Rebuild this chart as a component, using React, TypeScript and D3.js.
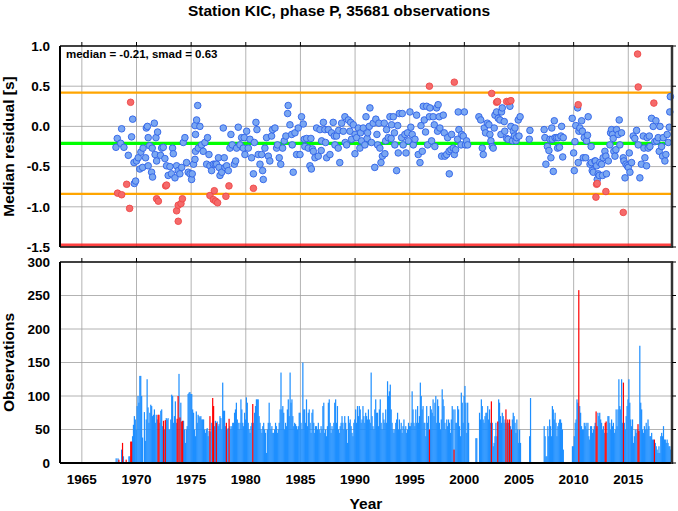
import React from "react";
import * as d3 from "d3";

const TITLE = "Station KIC, phase P, 35681 observations";
const STATS_LABEL = "median = -0.21, smad = 0.63";
const MEDIAN = -0.21;
const SMAD = 0.63;
const Y_LABEL_TOP = "Median residual [s]";
const Y_LABEL_BOTTOM = "Observations";
const X_LABEL = "Year";

const YEAR_TICKS = [1965, 1970, 1975, 1980, 1985, 1990, 1995, 2000, 2005, 2010, 2015];
const RES_TICKS = [1.0, 0.5, 0.0, -0.5, -1.0, -1.5];
const RES_TICK_LABELS = ["1.0", "0.5", "0.0", "-0.5", "-1.0", "-1.5"];
const OBS_TICKS = [0, 50, 100, 150, 200, 250, 300];

// monthly median residuals (decimal year, seconds)
const blueDots: [number, number][] = [
  [1968.12,-0.26],[1968.24,-0.15],[1968.55,-0.21],[1968.64,-0.03],[1968.85,-0.26],[1969.25,-0.36],[1969.55,-0.13],[1969.65,0.09],[1969.77,-0.45],[1969.8,-0.71],[1969.92,-0.68],
  [1970.0,-0.43],[1970.16,-0.39],[1970.3,-0.53],[1970.4,-0.32],[1970.56,-0.51],[1970.6,-0.27],[1970.83,-0.39],[1970.9,-0.02],[1971.0,0.0],[1971.07,-0.14],[1971.07,-0.49],[1971.2,-0.24],[1971.38,-0.57],[1971.44,-0.27],[1971.47,-0.63],[1971.63,0.04],[1971.7,-0.35],[1971.78,-0.14],[1971.84,-0.43],[1971.93,-0.07],
  [1972.2,-0.36],[1972.3,-0.27],[1972.45,-0.26],[1972.6,-0.40],[1972.75,-0.49],[1972.9,-0.61],[1973.06,-0.50],[1973.2,-0.59],[1973.3,-0.27],[1973.37,-0.34],[1973.52,-0.64],[1973.67,-0.49],[1973.82,-0.55],[1973.97,-0.59],
  [1974.13,-0.51],[1974.28,-0.20],[1974.43,-0.14],[1974.58,-0.45],[1974.73,-0.57],[1974.9,-0.59],[1975.04,-0.66],[1975.1,-0.59],[1975.22,-0.47],[1975.35,-0.41],[1975.4,-0.31],[1975.35,0.01],[1975.4,-0.10],[1975.5,0.08],[1975.6,0.26],[1975.65,-0.27],
  [1975.8,0.0],[1975.96,-0.23],[1976.1,-0.31],[1976.26,-0.20],[1976.42,-0.47],[1976.5,-0.14],[1976.63,-0.35],[1976.72,-0.49],[1976.87,-0.55],[1977.03,-0.47],[1977.2,-0.47],[1977.33,-0.47],[1977.5,-0.39],[1977.55,-0.51],[1977.64,-0.61],[1977.8,-0.57],[1977.94,-0.02],
  [1978.03,-0.39],[1978.1,-0.51],[1978.25,-0.49],[1978.4,-0.55],[1978.55,-0.27],[1978.64,-0.10],[1978.76,-0.23],[1978.95,-0.47],[1979.07,-0.43],[1979.16,-0.27],[1979.31,-0.01],[1979.47,-0.23],[1979.62,-0.14],[1979.77,-0.27],[1979.86,-0.14],[1979.92,-0.35],
  [1980.08,-0.06],[1980.23,-0.27],[1980.38,-0.16],[1980.53,-0.39],[1980.7,-0.59],[1980.78,-0.20],[1980.93,0.05],[1981.02,-0.04],[1981.14,-0.35],[1981.3,-0.47],[1981.45,-0.35],[1981.54,-0.55],[1981.6,-0.66],[1981.75,-0.27],[1981.9,-0.14],
  [1982.06,-0.37],[1982.2,-0.43],[1982.36,-0.12],[1982.45,-0.04],[1982.67,-0.02],[1982.82,-0.27],[1982.9,-0.23],[1983.06,-0.39],[1983.2,-0.47],[1983.37,-0.27],[1983.52,-0.18],[1983.67,-0.12],[1983.83,0.16],[1983.88,0.26],
  [1984.04,0.02],[1984.2,-0.10],[1984.25,-0.23],[1984.34,-0.57],[1984.5,-0.08],[1984.65,-0.35],[1984.8,-0.02],[1984.96,-0.35],[1985.1,0.12],[1985.26,0.03],[1985.35,-0.16],[1985.4,-0.25],[1985.57,-0.15],[1985.72,-0.27],[1985.87,-0.49],[1985.96,-0.15],
  [1986.0,-0.53],[1986.1,-0.28],[1986.18,-0.31],[1986.33,-0.39],[1986.48,-0.02],[1986.63,-0.37],[1986.79,-0.04],[1986.9,-0.30],[1986.94,-0.18],[1987.1,0.05],[1987.24,-0.04],[1987.3,-0.20],[1987.4,-0.39],[1987.55,-0.04],[1987.7,-0.35],[1987.85,-0.08],
  [1988.0,0.05],[1988.1,-0.12],[1988.16,-0.23],[1988.3,-0.12],[1988.46,-0.27],[1988.5,-0.05],[1988.6,-0.45],[1988.77,0.04],[1988.92,-0.06],[1989.07,0.12],[1989.1,-0.20],[1989.23,-0.23],[1989.38,0.08],[1989.53,-0.06],[1989.6,0.05],[1989.68,-0.16],[1989.84,0.02],[1989.99,-0.34],
  [1990.0,-0.10],[1990.14,-0.14],[1990.3,-0.02],[1990.44,-0.27],[1990.5,-0.08],[1990.6,-0.18],[1990.75,-0.02],[1990.9,-0.23],[1991.0,0.12],[1991.1,-0.15],[1991.15,-0.08],[1991.3,0.0],[1991.36,0.23],[1991.5,-0.20],[1991.66,0.04],[1991.8,-0.51],[1991.9,0.09],
  [1992.0,-0.10],[1992.06,-0.23],[1992.18,0.04],[1992.27,-0.27],[1992.37,-0.45],[1992.5,-0.37],[1992.67,0.04],[1992.73,-0.34],[1992.8,-0.18],[1992.88,-0.04],[1993.04,-0.14],[1993.19,0.12],[1993.3,-0.15],[1993.34,0.02],[1993.5,0.12],[1993.6,-0.08],[1993.64,-0.23],[1993.8,-0.55],[1993.9,0.01],[1993.95,-0.33],
  [1994.05,0.16],[1994.26,-0.14],[1994.32,0.16],[1994.4,-0.23],[1994.56,-0.10],[1994.66,-0.33],[1994.8,-0.08],[1994.87,-0.18],[1995.02,0.18],[1995.1,-0.01],[1995.23,-0.10],[1995.33,-0.23],[1995.48,-0.16],[1995.63,0.14],[1995.78,-0.35],[1995.94,-0.45],
  [1996.03,0.01],[1996.15,-0.31],[1996.24,0.25],[1996.33,0.08],[1996.45,-0.07],[1996.55,0.25],[1996.64,-0.23],[1996.8,0.12],[1996.85,0.23],[1997.0,-0.18],[1997.15,0.12],[1997.25,0.02],[1997.3,-0.25],[1997.46,0.23],[1997.55,-0.06],[1997.6,0.27],[1997.7,0.12],[1997.76,-0.02],[1997.92,-0.37],
  [1998.07,0.14],[1998.16,-0.08],[1998.22,-0.37],[1998.38,-0.35],[1998.47,-0.14],[1998.6,-0.31],[1998.62,-0.59],[1998.77,-0.29],[1998.83,-0.10],[1998.98,-0.27],[1999.08,-0.35],[1999.2,-0.29],[1999.38,-0.16],[1999.44,0.18],[1999.5,-0.04],[1999.7,-0.23],[1999.75,-0.10],[1999.9,-0.12],
  [2000.0,0.18],[2000.1,-0.23],[2000.2,-0.18],[2000.3,-0.23],
  [2001.33,0.12],[2001.5,0.08],[2001.64,-0.27],[2001.73,-0.35],[2001.82,-0.02],[2001.94,-0.08],[2002.1,0.04],[2002.25,0.02],[2002.34,-0.10],[2002.43,-0.18],[2002.55,-0.25],[2002.64,-0.27],[2002.73,-0.02],[2002.8,0.14],[2002.95,0.18],
  [2003.1,0.10],[2003.26,0.08],[2003.35,-0.10],[2003.4,0.18],[2003.47,0.23],[2003.65,0.06],[2003.7,-0.06],[2003.87,-0.15],[2004.0,-0.16],[2004.17,0.25],[2004.26,0.0],[2004.4,-0.18],[2004.48,-0.06],[2004.57,-0.12],[2004.63,-0.02],[2004.72,-0.18],[2004.78,-0.14],[2004.93,0.08],[2005.0,-0.12],[2005.1,0.12],
  [2005.94,-0.16],[2006.0,-0.05],
  [2007.3,-0.04],[2007.37,-0.14],[2007.46,-0.47],[2007.6,-0.25],[2007.74,-0.30],[2007.83,-0.16],[2007.92,-0.39],[2008.0,-0.02],[2008.04,-0.16],[2008.14,-0.56],[2008.23,0.07],[2008.3,-0.14],[2008.44,-0.14],[2008.53,-0.27],[2008.6,-0.14],[2008.7,-0.26],[2008.84,-0.12],[2008.9,0.0],[2009.0,-0.38],[2009.05,-0.14],
  [2009.87,0.10],[2010.0,-0.33],[2010.06,-0.55],[2010.12,-0.19],[2010.2,0.01],[2010.36,0.23],[2010.42,-0.45],[2010.48,-0.06],[2010.57,-0.02],[2010.73,0.07],[2010.8,-0.06],[2010.88,-0.39],[2010.97,-0.14],
  [2011.1,-0.39],[2011.18,-0.18],[2011.27,-0.11],[2011.33,0.12],[2011.5,-0.47],[2011.6,-0.25],[2011.64,-0.45],[2011.7,-0.55],[2011.8,-0.57],[2011.95,-0.43],
  [2012.0,-0.43],[2012.1,-0.49],[2012.16,-0.66],[2012.25,-0.59],[2012.34,-0.61],[2012.4,-0.45],[2012.56,-0.47],[2012.65,-0.61],[2012.7,-0.39],[2012.86,-0.31],[2012.95,-0.37],
  [2013.0,-0.59],[2013.17,-0.43],[2013.32,-0.23],[2013.38,-0.08],[2013.47,-0.04],[2013.56,-0.10],[2013.62,-0.15],[2013.68,-0.31],[2013.78,-0.37],[2013.87,-0.29],[2013.93,-0.04],
  [2014.08,-0.10],[2014.17,0.08],[2014.23,-0.23],[2014.38,-0.08],[2014.54,-0.39],[2014.6,-0.43],[2014.7,-0.64],[2014.78,-0.47],[2014.9,-0.49],
  [2015.0,-0.51],[2015.09,-0.33],[2015.15,-0.57],[2015.3,-0.45],[2015.45,-0.12],[2015.6,-0.15],[2015.76,-0.05],[2015.91,-0.23],
  [2016.06,-0.64],[2016.2,-0.47],[2016.37,-0.12],[2016.43,-0.27],[2016.52,-0.39],[2016.67,-0.49],[2016.73,-0.14],[2016.82,-0.27],[2016.92,-0.12],[2016.98,-0.25],
  [2017.13,0.10],[2017.28,0.0],[2017.43,-0.19],[2017.53,0.07],[2017.6,-0.18],[2017.74,-0.14],[2017.83,-0.31],[2017.9,0.0],
  [2018.05,-0.25],[2018.14,-0.37],[2018.2,-0.14],[2018.35,-0.43],[2018.44,-0.35],[2018.56,-0.10],[2018.66,-0.20],[2018.75,-0.01],[2018.8,0.18],[2018.85,0.37]
];

const redDots: [number, number][] = [
  [1968.27,-0.83],[1968.64,-0.85],[1969.1,-0.72],[1969.37,-1.02],[1969.46,0.30],[1971.84,-0.90],[1972.0,-0.93],[1972.67,-0.74],[1972.75,-0.73],
  [1973.67,-1.05],[1973.82,-0.98],[1973.82,-1.18],[1974.07,-0.96],[1974.2,-0.90],[1976.72,-0.86],[1977.03,-0.91],[1977.12,-0.80],[1977.24,-0.93],[1977.42,-0.95],
  [1978.18,-0.87],[1978.46,-0.74],[1980.7,-0.77],[1996.8,0.50],[1999.08,0.55],[2002.5,0.41],[2002.95,0.30],[2003.04,0.31],[2003.87,0.31],[2004.08,0.31],[2004.26,0.32],
  [2010.42,0.27],[2012.04,-0.88],[2012.1,-0.72],[2012.16,-0.71],[2012.95,-0.81],[2014.54,-1.07],[2015.85,0.90],[2015.91,0.49],[2017.34,0.29]
];

// monthly observation counts, each run starting in January of its first year
const obs1968s = [
  0,7,0,7,5,0,0,20,30,10,0,0,
  5,0,0,10,10,32,32,40,57,70,65,50,
  85,100,90,130,130,100,38,0,76,33,65,125,
  83,60,75,87,85,70,72,80,60,72,65,72,
  72,60,78,80,55,63,50,64,67,65,67,50,
  50,65,102,100,60,70,92,60,66,100,133,68,
  90,62,63,63,50,30,50,55,103,105,106,103,
  103,80,75,50,40,77,60,72,70,68,70,65,
  65,65,50,45,50,52,40,48,70,47,60,97,
  85,55,63,60,62,55,58,70,67,50,120,78
];
const obs1978s = [
  78,55,60,50,52,66,55,50,55,60,60,75,
  80,90,65,60,50,60,95,80,60,55,75,65,
  98,90,60,50,45,55,60,88,60,75,85,95,
  95,95,70,60,50,45,55,60,50,45,15,50,
  60,90,60,50,55,45,45,50,60,55,45,50,
  60,80,135,80,85,75,50,60,55,80,95,70,
  135,90,95,70,55,60,58,55,50,55,75,75,
  60,50,150,80,80,60,95,55,75,80,60,45,
  75,80,60,45,55,55,50,60,50,45,55,50,
  85,90,45,50,40,55,90,95,60,45,55,50
];
const obs1988s = [
  60,90,95,60,85,50,45,55,60,70,60,50,
  70,60,50,30,70,60,65,55,45,40,60,65,
  80,60,85,70,85,80,60,65,85,70,60,75,
  70,65,80,65,60,135,70,55,50,80,95,75,
  75,55,80,95,60,50,75,65,60,80,60,122,
  100,107,117,80,60,50,45,50,60,65,75,50,
  65,50,60,45,55,65,50,55,45,50,60,55,
  55,60,107,80,60,55,80,60,85,60,70,120,
  100,80,85,60,60,40,85,60,70,50,85,80,
  75,95,70,90,100,60,95,85,60,50,65,110
];
const obs1998s = [
  95,85,60,50,65,55,65,60,45,65,85,80,
  20,80,60,60,85,80,55,40,105,90,60,100,
  115,90,45,90,60
];
const obs2001s = [
  37,37,0,0,75,65,95,85,65,60,70,75,
  75,85,65,80,60,92,60,25,30,40,60,40,
  62,95,90,70,60,75,70,60,65,80,60,65,
  60,65,55,50,65,75,70,60,45,65,50,30,
  50,30,0,0,0,0,0,0,0,0,0,40,
  97,0,0,0,0,0,0,0,0,0,0,0,
  0,0,0,55,40,10,10,55,40,65,55,40,
  85,80,65,75,60,40,55,60,65,65,60,50,
  20,0,0,0,0,0,0,0,0,0,25,25
];
const obs2010s = [
  40,60,65,95,90,258,85,75,55,50,50,60,
  55,60,50,60,40,35,55,55,45,50,55,60,
  77,55,75,70,75,65,60,50,55,45,60,62,
  45,70,70,60,50,65,55,60,45,50,80,55,
  80,125,85,80,125,60,120,60,50,70,85,95,
  125,90,65,55,65,30,40,50,45,50,58,48,
  175,90,80,50,45,55,50,60,50,65,55,40,
  40,45,35,35,35,30,25,20,15,25,15,40,
  45,40,55,35,35,30,35,30,25,25,20,25
];
const obsRuns: [number, number[]][] = [
  [1968, obs1968s], [1978, obs1978s], [1988, obs1988s], [1998, obs1998s], [2001, obs2001s], [2010, obs2010s]
];
// months flagged red: [year, month index 0-11]
const redMonths: [number, number][] = [
  [1968,4],[1968,8],[1969,0],[1969,5],[1969,6],[1971,11],[1972,0],[1972,5],[1972,7],[1973,8],[1973,9],[1973,11],[1974,1],[1974,2],
  [1976,8],[1976,11],[1977,0],[1977,3],[1978,2],[1978,5],[1980,7],[1996,9],[1999,0],[2002,5],[2003,0],[2003,9],[2003,11],[2004,1],[2004,3],
  [2010,5],[2012,0],[2012,1],[2012,10],[2012,11],[2014,6],[2015,10],[2015,11],[2017,4]
];

const W = 678, H = 511;
const L = 60, R = 672;
const T1 = 46, B1 = 247, T2 = 262, B2 = 463;
const FONT = "'Liberation Sans', Arial, Helvetica, sans-serif";

export default function App() {
  const x = d3.scaleLinear().domain([1963, 2019]).range([L, R]);
  const yRes = d3.scaleLinear().domain([-1.5, 1.0]).range([B1, T1]);
  const yObs = d3.scaleLinear().domain([0, 300]).range([B2, T2]);
  const redSet = new Set(redMonths.map(([yy, m]) => yy * 12 + m));

  const bars: { x: number; w: number; y: number; h: number; red: boolean }[] = [];
  obsRuns.forEach(([start, counts]) => {
    counts.forEach((c, i) => {
      if (c <= 0) return;
      const yy = start + Math.floor(i / 12);
      const m = i % 12;
      const t0 = yy + m / 12;
      const x0 = x(t0);
      const x1 = x(t0 + 1 / 12);
      bars.push({ x: x0, w: x1 - x0, y: yObs(c), h: yObs(0) - yObs(c), red: redSet.has(yy * 12 + m) });
    });
  });

  const gridColor = "#a0a0a0";
  return (
    <svg width={W} height={H} style={{ position: "absolute", left: 0, top: 0, background: "#fff" }} fontFamily={FONT}>
      <rect x={0} y={0} width={W} height={H} fill="#fff" />
      <text x={W / 2} y={16} textAnchor="middle" fontSize={15.5} fontWeight="bold">{TITLE}</text>

      {/* ---------- top panel ---------- */}
      <g>
        {YEAR_TICKS.map((t) => (
          <line key={"gx1" + t} x1={x(t)} x2={x(t)} y1={T1} y2={B1} stroke={gridColor} strokeWidth={0.8} />
        ))}
        {RES_TICKS.filter((v) => v < 1 && v > -1.5).map((v) => (
          <line key={"gy1" + v} x1={L} x2={R} y1={yRes(v)} y2={yRes(v)} stroke={gridColor} strokeWidth={0.8} />
        ))}
        <line x1={L} x2={R} y1={yRes(MEDIAN + SMAD)} y2={yRes(MEDIAN + SMAD)} stroke="#ffa500" strokeWidth={2.2} />
        <line x1={L} x2={R} y1={yRes(MEDIAN - SMAD)} y2={yRes(MEDIAN - SMAD)} stroke="#ffa500" strokeWidth={2.2} />
        <line x1={L} x2={R} y1={yRes(MEDIAN)} y2={yRes(MEDIAN)} stroke="#00ff00" strokeWidth={3.2} />
        <line x1={L} x2={R} y1={B1 - 2} y2={B1 - 2} stroke="#ff2020" strokeWidth={3} opacity={0.85} />
        {blueDots.map(([t, v], i) => (
          <circle key={"b" + i} cx={x(t)} cy={yRes(v)} r={3.3} fill="#7aa7f2" stroke="#2f62e8" strokeWidth={0.9} />
        ))}
        {redDots.map(([t, v], i) => (
          <circle key={"r" + i} cx={x(t)} cy={yRes(v)} r={3.3} fill="#f56a6a" stroke="#ee4848" strokeWidth={0.9} />
        ))}
        <text x={66} y={57.5} fontSize={11.5} fontWeight="bold">{STATS_LABEL}</text>
        {/* frame */}
        <line x1={L} x2={R} y1={T1} y2={T1} stroke="#000" strokeWidth={1.5} />
        <line x1={L} x2={R} y1={B1} y2={B1} stroke="#000" strokeWidth={1.5} />
        <line x1={L} x2={L} y1={T1} y2={B1} stroke="#000" strokeWidth={2} />
        <line x1={R} x2={R} y1={T1 - 0.75} y2={B1 + 0.75} stroke="#333" strokeWidth={2.5} />
        {YEAR_TICKS.map((t) => (
          <line key={"tx1" + t} x1={x(t)} x2={x(t)} y1={T1} y2={T1 - 4} stroke="#000" strokeWidth={1} />
        ))}
        {RES_TICKS.map((v) => (
          <line key={"ty1" + v} x1={R} x2={R + 4} y1={yRes(v)} y2={yRes(v)} stroke="#000" strokeWidth={1} />
        ))}
        {RES_TICKS.map((v, i) => (
          <text key={"yl1" + v} x={50} y={yRes(v)} dy="0.36em" textAnchor="end" fontSize={13.5} fontWeight="bold">{RES_TICK_LABELS[i]}</text>
        ))}
        <text transform={`translate(13.5,${(T1 + B1) / 2}) rotate(-90)`} textAnchor="middle" fontSize={15.5} fontWeight="bold">{Y_LABEL_TOP}</text>
      </g>

      {/* ---------- bottom panel ---------- */}
      <g>
        {YEAR_TICKS.map((t) => (
          <line key={"gx2" + t} x1={x(t)} x2={x(t)} y1={T2} y2={B2} stroke={gridColor} strokeWidth={0.8} />
        ))}
        {OBS_TICKS.filter((v) => v > 0 && v < 300).map((v) => (
          <line key={"gy2" + v} x1={L} x2={R} y1={yObs(v)} y2={yObs(v)} stroke={gridColor} strokeWidth={0.8} />
        ))}
        {bars.filter((b) => !b.red).map((b, i) => (
          <rect key={"ob" + i} x={b.x} y={b.y} width={b.w + 0.3} height={b.h} fill="#1e8fff" />
        ))}
        {bars.filter((b) => b.red).map((b, i) => (
          <rect key={"or" + i} x={b.x} y={b.y} width={b.w + 0.3} height={b.h} fill="#ff0000" />
        ))}
        <line x1={L} x2={R} y1={T2} y2={T2} stroke="#000" strokeWidth={1.5} />
        <line x1={L} x2={R} y1={B2} y2={B2} stroke="#000" strokeWidth={2} />
        <line x1={L} x2={L} y1={T2} y2={B2} stroke="#000" strokeWidth={2} />
        <line x1={R} x2={R} y1={T2 - 0.75} y2={B2 + 1} stroke="#333" strokeWidth={2.5} />
        {YEAR_TICKS.map((t) => (
          <line key={"tx2" + t} x1={x(t)} x2={x(t)} y1={T2} y2={T2 - 4} stroke="#000" strokeWidth={1} />
        ))}
        {OBS_TICKS.map((v) => (
          <line key={"ty2" + v} x1={R} x2={R + 4} y1={yObs(v)} y2={yObs(v)} stroke="#000" strokeWidth={1} />
        ))}
        {OBS_TICKS.map((v) => (
          <text key={"yl2" + v} x={50} y={yObs(v)} dy="0.36em" textAnchor="end" fontSize={13.5} fontWeight="bold">{String(v)}</text>
        ))}
        {YEAR_TICKS.map((t) => (
          <text key={"xl" + t} x={x(t)} y={484} textAnchor="middle" fontSize={13.5} fontWeight="bold">{String(t)}</text>
        ))}
        <text transform={`translate(13.5,${(T2 + B2) / 2}) rotate(-90)`} textAnchor="middle" fontSize={15.5} fontWeight="bold">{Y_LABEL_BOTTOM}</text>
        <text x={(L + R) / 2} y={509} textAnchor="middle" fontSize={15.5} fontWeight="bold">{X_LABEL}</text>
      </g>
    </svg>
  );
}
